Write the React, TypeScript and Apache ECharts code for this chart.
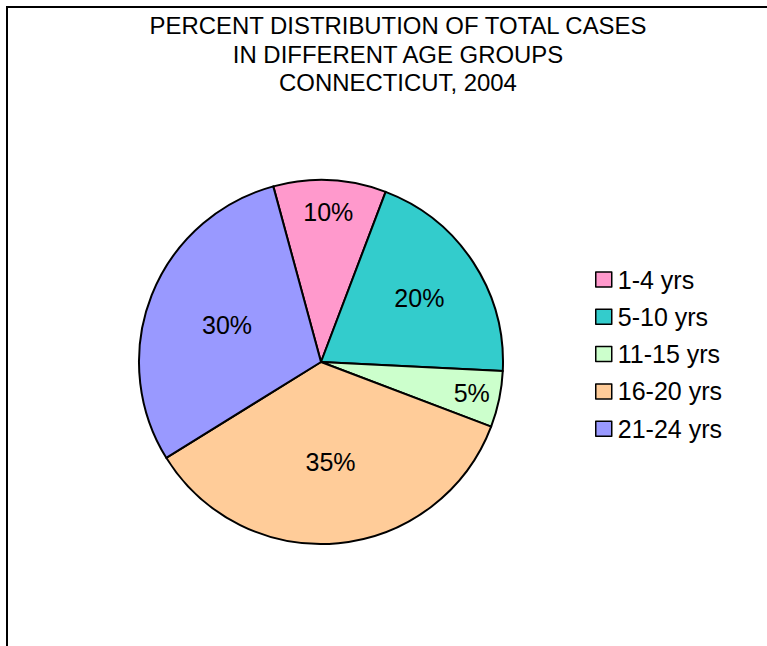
import React, { useEffect, useRef } from "react";
import * as echarts from "echarts";

const titleLines = [
  "PERCENT DISTRIBUTION OF TOTAL CASES",
  "IN DIFFERENT AGE GROUPS",
  "CONNECTICUT, 2004",
];
const categories = ["1-4 yrs", "5-10 yrs", "11-15 yrs", "16-20 yrs", "21-24 yrs"];
const values = [10, 20, 5, 35.4, 29.6];
const colors = ["#FF99CC", "#33CCCC", "#CCFFCC", "#FFCC99", "#9999FF"];
const labelRadiusFrac = [0.824, 0.646, 0.846, 0.55, 0.555];

const CX = 321;
const CY = 362;
const R = 182;
const START = 105.2; // degrees, echarts convention (90 = 12 o'clock)
const FONT = "'Liberation Sans', Arial, Helvetica, sans-serif";

export default function App() {
  const ref = useRef<HTMLDivElement>(null);
  useEffect(() => {
    if (!ref.current) return;
    const chart = echarts.init(ref.current, null, { renderer: "svg" });
    const total = values.reduce((a, b) => a + b, 0);
    const midAngles: number[] = [];
    let acc = 0;
    values.forEach((v) => {
      const startCw = 90 - START + (acc / total) * 360; // clockwise from 12 o'clock
      acc += v;
      const endCw = 90 - START + (acc / total) * 360;
      midAngles.push(((startCw + endCw) / 2) * (Math.PI / 180));
    });

    chart.setOption({
      animation: false,
      backgroundColor: "#ffffff",
      graphic: [
        {
          type: "rect",
          shape: { x: 7, y: 7, width: 900, height: 800 },
          style: { fill: "none", stroke: "#000", lineWidth: 2 },
          silent: true,
        },
        ...titleLines.map((t, i) => ({
          type: "text",
          x: 398,
          y: 14.5 + i * 28.7,
          scaleX: 1.04,
          style: {
            text: t,
            x: 0,
            y: 0,
            textAlign: "center",
            textVerticalAlign: "top",
            fontFamily: FONT,
            fontSize: 23,
            fill: "#000",
          },
        })),
      ],
      legend: {
        orient: "vertical",
        left: 595,
        top: 267,
        padding: 0,
        icon: "rect",
        itemWidth: 16,
        itemHeight: 15,
        itemGap: 12.3,
        data: categories,
        itemStyle: { borderColor: "#000", borderWidth: 1.5 },
        textStyle: {
          fontFamily: FONT,
          fontSize: 25,
          lineHeight: 25,
          color: "#000",
          padding: [0, 0, 0, 1],
        },
      },
      series: [
        {
          type: "pie",
          center: [CX, CY],
          radius: [0, R],
          startAngle: START,
          clockwise: true,
          percentPrecision: 0,
          avoidLabelOverlap: false,
          data: categories.map((c, i) => ({
            name: c,
            value: values[i],
            itemStyle: { color: colors[i] },
          })),
          itemStyle: { borderColor: "#000", borderWidth: 2 },
          label: {
            show: true,
            position: "inside",
            formatter: "{d}%",
            fontFamily: FONT,
            fontSize: 25,
            color: "#000",
          },
          labelLine: { show: false },
          labelLayout: (params: any) => {
            const i = params.dataIndex;
            const a = midAngles[i];
            const r = R * labelRadiusFrac[i];
            return {
              x: CX + r * Math.sin(a),
              y: CY - r * Math.cos(a),
              align: "center",
              verticalAlign: "middle",
            };
          },
          emphasis: { disabled: true },
        },
      ],
    });
    return () => chart.dispose();
  }, []);
  return (
    <div
      ref={ref}
      style={{ position: "absolute", left: 0, top: 0, width: 767, height: 646 }}
    />
  );
}
